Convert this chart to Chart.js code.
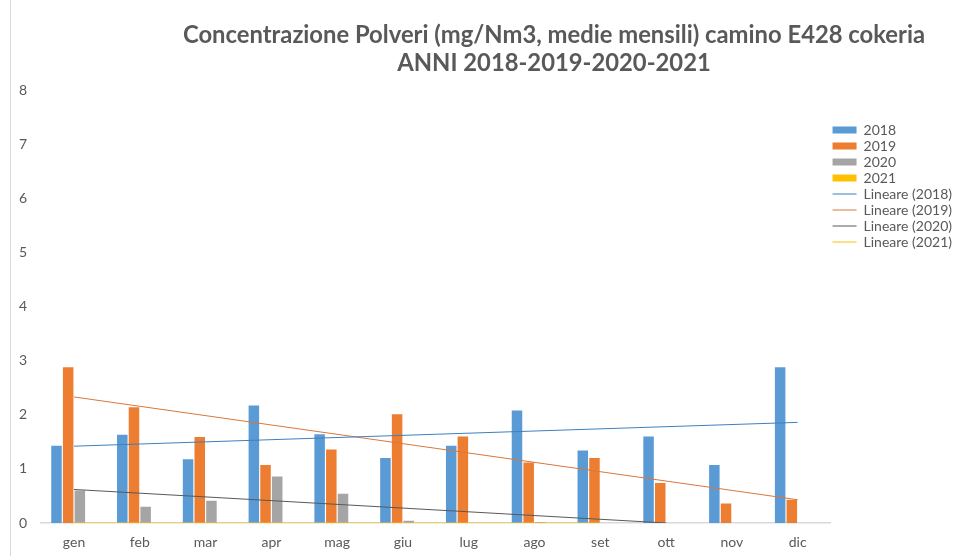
<!DOCTYPE html>
<html>
<head>
<meta charset="utf-8">
<script src="https://cdn.jsdelivr.net/npm/chart.js@4/dist/chart.umd.min.js"></script>
<style>
  body { margin: 0; background: #fff; }
  #wrap { width: 975px; height: 556px; }
</style>
</head>
<body>
<div id="wrap"><canvas id="barChart" width="975" height="556"></canvas></div>
<script>
const months = ["gen", "feb", "mar", "apr", "mag", "giu", "lug", "ago", "set", "ott", "nov", "dic"];
const years = ["2018", "2019", "2020", "2021"];

const polveri2018 = [1.43, 1.63, 1.18, 2.17, 1.64, 1.20, 1.43, 2.08, 1.34, 1.60, 1.07, 2.88];
const polveri2019 = [2.88, 2.14, 1.59, 1.07, 1.36, 2.01, 1.60, 1.12, 1.20, 0.74, 0.36, 0.43];
const polveri2020 = [0.60, 0.30, 0.41, 0.86, 0.54, 0.04, 0, 0.02, 0, 0, null, null];
const polveri2021 = [0, 0, 0, 0, 0, 0, 0, 0, 0, null, null, null];

// linee di tendenza: mese iniziale/finale e valori
const trendFrom = ["gen", "gen", "gen", "gen"];
const trendTo = ["dic", "dic", "ott", "set"];
const trendStart = [1.42, 2.33, 0.62, 0];
const trendEnd = [1.86, 0.43, 0, 0];

const yTicks = [0, 1, 2, 3, 4, 5, 6, 7, 8];

const barColors = ["#5B9BD5", "#ED7D31", "#A5A5A5", "#FFC000"];
const lineColors = ["#3f7fbf", "#d9773a", "#595959", "#FFC000"];
const series = [polveri2018, polveri2019, polveri2020, polveri2021];

const datasets = [];
years.forEach((y, i) => {
  datasets.push({
    type: "bar",
    label: y,
    data: series[i],
    backgroundColor: barColors[i],
    borderWidth: 0,
    pointStyle: "rect",
    order: 1,
    categoryPercentage: 0.71,
    barPercentage: 0.9
  });
});
years.forEach((y, i) => {
  datasets.push({
    type: "line",
    label: "Lineare (" + y + ")",
    data: [{ x: trendFrom[i], y: trendStart[i] }, { x: trendTo[i], y: trendEnd[i] }],
    borderColor: lineColors[i],
    backgroundColor: lineColors[i],
    borderWidth: 1,
    pointRadius: 0,
    pointStyle: "line",
    order: 0
  });
});

const nudge = {
  id: "nudge",
  afterLayout(chart) {
    const t = chart.titleBlock;
    const dx = 554 - (t.left + t.right) / 2;
    t.left += dx;
    t.right += dx;
    const lg = chart.legend;
    const dy = 121 - lg.top;
    lg.top += dy;
    lg.bottom += dy;
  },
  beforeDraw(chart) {
    const ctx = chart.ctx;
    ctx.save();
    ctx.strokeStyle = "#d9d9d9";
    ctx.lineWidth = 1;
    ctx.beginPath();
    ctx.moveTo(10.5, 0);
    ctx.lineTo(10.5, chart.height);
    ctx.stroke();
    ctx.restore();
  }
};

const ctx = document.getElementById("barChart").getContext("2d");
const chart = new Chart(ctx, {
  data: { labels: months, datasets: datasets },
  plugins: [nudge],
  options: {
    responsive: false,
    animation: false,
    layout: { padding: { left: 5, right: 13, top: 0, bottom: 0 } },
    plugins: {
      title: {
        display: true,
        text: ["Concentrazione Polveri (mg/Nm3, medie mensili) camino E428 cokeria", "ANNI 2018-2019-2020-2021"],
        color: "#595959",
        font: { family: "Lato", size: 23.8, weight: "bold", lineHeight: 1.18 },
        padding: { top: 21, bottom: 13 }
      },
      legend: {
        position: "right",
        align: "start",
        labels: {
          usePointStyle: true,
          pointStyleWidth: 24,
          boxHeight: 7,
          padding: 2,
          color: "#595959",
          font: { family: "Lato", size: 14 },
          sort: (a, b) => a.datasetIndex - b.datasetIndex
        }
      },
      tooltip: { enabled: false }
    },
    scales: {
      x: {
        afterFit: (s) => { s.height = 33; },
        grid: { display: false, drawTicks: false },
        border: { display: true, color: "#d9d9d9", width: 1.5 },
        ticks: { color: "#595959", padding: 11, font: { family: "Lato", size: 14 } }
      },
      y: {
        min: 0,
        max: 8,
        afterBuildTicks: (s) => { s.ticks = yTicks.map(v => ({ value: v })); },
        grid: { display: false, drawTicks: false },
        border: { display: false },
        ticks: { color: "#595959", padding: 14, font: { family: "Lato", size: 14 } }
      }
    }
  }
});
</script>
</body>
</html>
